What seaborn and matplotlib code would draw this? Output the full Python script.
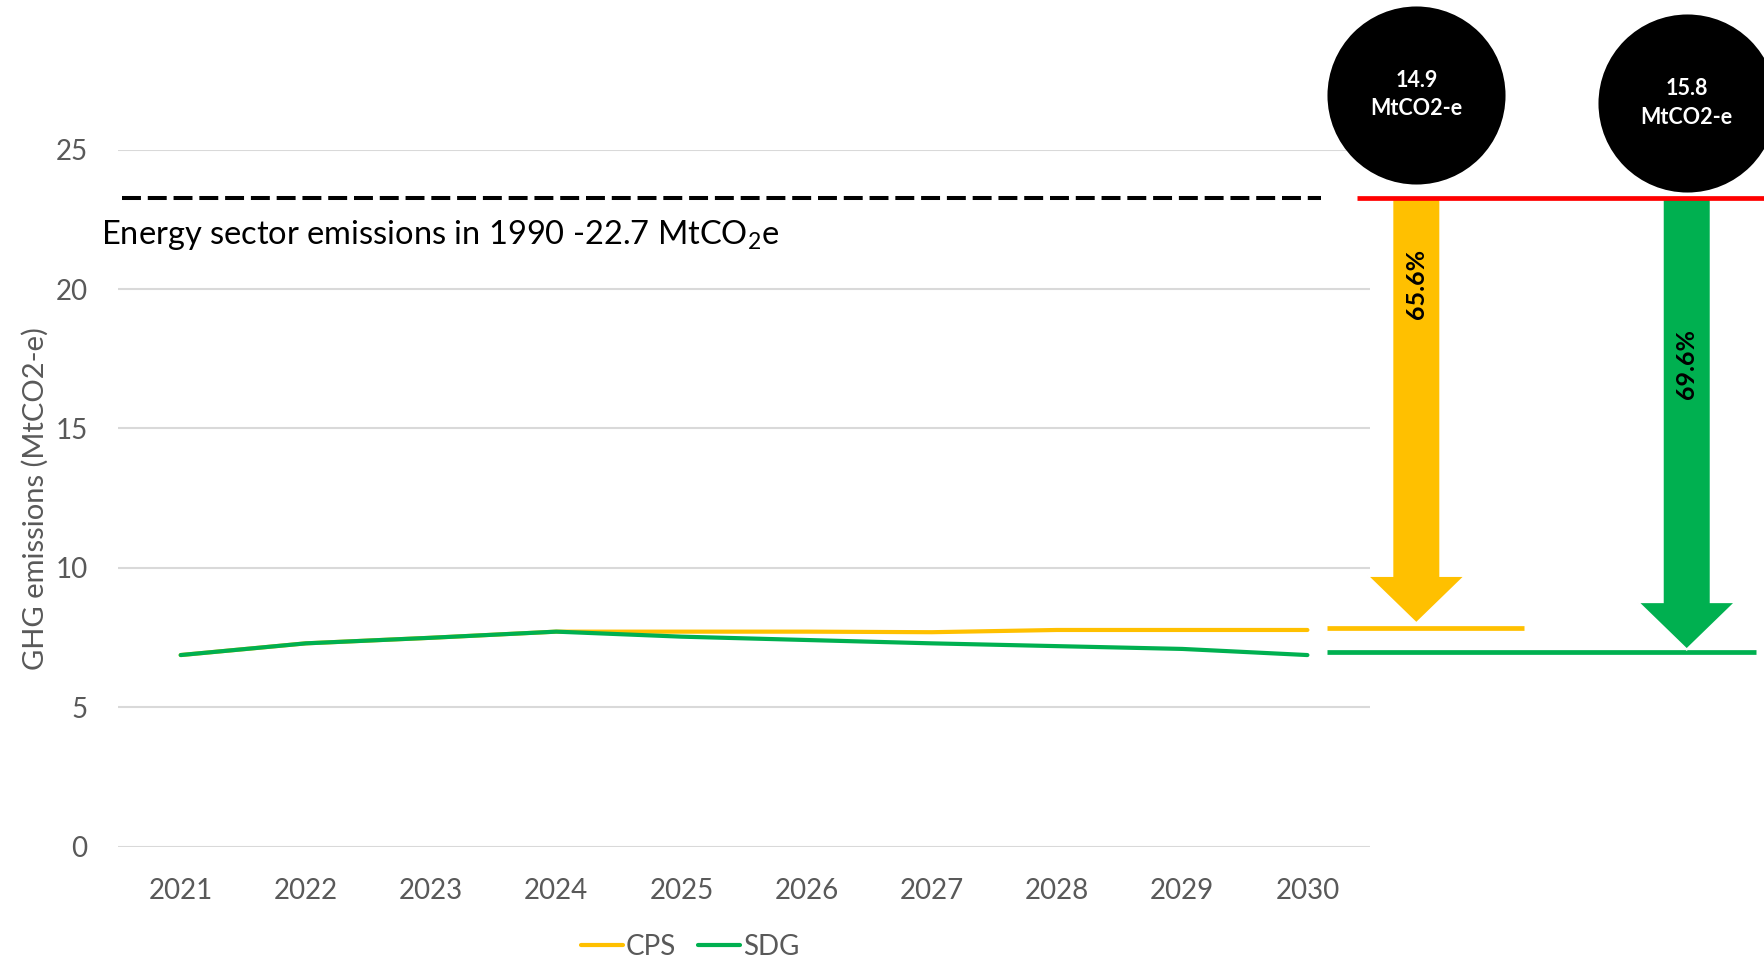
import pandas as pd
import seaborn as sns
import matplotlib.pyplot as plt
import numpy as np

# Emissions by scenario (MtCO2-e)
years = [2021, 2022, 2023, 2024, 2025, 2026, 2027, 2028, 2029, 2030]
cps = [6.87, 7.29, 7.49, 7.71, 7.71, 7.71, 7.69, 7.77, 7.77, 7.77]
sdg = [6.87, 7.29, 7.49, 7.71, 7.53, 7.41, 7.29, 7.19, 7.09, 6.87]
scenarios = ['CPS', 'SDG']
colours = ['#FFC000', '#00B050']

# 1990 reference level and the reductions against it
level_1990 = 23.27
level_text = 'Energy sector emissions in 1990 -22.7 MtCO$_2$e'
cut_pct = ['65.6%', '69.6%']
cut_amount = ['14.9\nMtCO2-e', '15.8\nMtCO2-e']
end_levels = [7.84, 6.99]
arrow_tips = [8.01, 7.07]

sns.set_style('white')
plt.rcParams['font.family'] = ['Lato', 'DejaVu Sans']
plt.rcParams['mathtext.default'] = 'regular'
grey = '#595959'

fig = plt.figure(figsize=(17.65, 9.6), dpi=100)
ax = fig.add_axes([0.0669, 0.1182, 0.7093, 0.7258])

df = pd.DataFrame({
    'Year': years * 2,
    'Scenario': [scenarios[0]] * len(years) + [scenarios[1]] * len(years),
    'Value': cps + sdg,
})
sns.lineplot(data=df, x='Year', y='Value', hue='Scenario', palette=colours,
             linewidth=3, solid_capstyle='round', ax=ax)

ax.set_xlim(2020.5, 2030.5)
ax.set_ylim(0, 25)
ax.set_xticks(years)
ax.set_yticks(range(0, 26, 5))
ax.yaxis.grid(True, color='#d9d9d9', linewidth=1.5)
ax.xaxis.grid(False)
ax.set_axisbelow(True)
ax.tick_params(length=0, labelsize=20, colors=grey)
ax.tick_params(axis='y', pad=22)
ax.tick_params(axis='x', pad=23)
for s in ax.spines.values():
    s.set_visible(False)
ax.set_xlabel('')
ax.set_ylabel('GHG emissions (MtCO2-e)', fontsize=21, color=grey)
ax.yaxis.set_label_coords(-0.055, 0.5)

# 1990 level
ax.axhline(level_1990, xmin=0.003, xmax=0.961, color='black', lw=2.9,
           linestyle=(0, (4.7, 1.7)))
ax.text(-0.0136, 21.94, level_text, transform=ax.get_yaxis_transform(),
        fontsize=23.5, va='center', ha='left', color='black')
ax.plot([2030.4, 2033.7], [level_1990, level_1990], color='#FF0000', lw=3.4,
        clip_on=False, zorder=6, solid_capstyle='butt')

# short reference bars for the 2030 values
seg_ends = [2031.73, 2033.58]
for lvl, end, c in zip(end_levels, seg_ends, colours):
    ax.plot([2030.157, end], [lvl, lvl], color=c, lw=3.4, clip_on=False,
            solid_capstyle='butt', zorder=3)

# reduction arrows with their labels and bubbles
arrow_x = [2030.87, 2033.03]
label_y = [20.18, 17.3]
bubble_y = [26.98, 26.68]
sw, hw, hl = 0.192, 0.39, 1.7
for xc, tip, c, pct, ly in zip(arrow_x, arrow_tips, colours, cut_pct, label_y):
    xs = [xc - sw, xc + sw, xc + sw, xc + hw, xc, xc - hw, xc - sw]
    ys = [level_1990, level_1990, tip + hl, tip + hl, tip, tip + hl, tip + hl]
    ax.fill(xs, ys, color=c, ec='white', lw=1.5, clip_on=False, zorder=4)
    ax.text(xc, ly, pct, rotation=90, ha='center', va='center', fontsize=18,
            fontweight='bold', color='black', zorder=5)

ax.scatter(arrow_x, bubble_y, s=16435, color='black', linewidths=0,
           clip_on=False, zorder=7)
for xc, by, txt in zip(arrow_x, bubble_y, cut_amount):
    ax.text(xc, by, txt, ha='center', va='center', fontsize=15.5,
            fontweight='bold', color='white', linespacing=1.45, zorder=8)

handles, labels = ax.get_legend_handles_labels()
ax.legend(handles, labels, loc='center', bbox_to_anchor=(0.391, 0.0135),
          bbox_transform=fig.transFigure, ncol=2, frameon=False, fontsize=20,
          handlelength=1.5, handletextpad=0.1, columnspacing=0.8,
          labelcolor=grey)

fig.savefig('out.png', dpi=100)
